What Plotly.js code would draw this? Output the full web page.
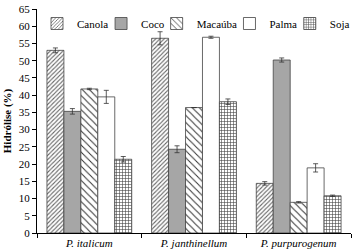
<!DOCTYPE html>
<html><head><meta charset="utf-8">
<script src="https://cdn.plot.ly/plotly-3.0.1.min.js"></script>
<style>body{margin:0;padding:0;background:#fff}#c{width:360px;height:251px}</style>
</head><body><div id="c"></div>
<script>
const categories = ['P. italicum', 'P. janthinellum', 'P. purpurogenum'];
const seriesNames = ['Canola', 'Coco', 'Macaúba', 'Palma', 'Soja'];
const canola = [53.0, 56.5, 14.4];
const canolaErr = [0.7, 1.9, 0.5];
const coco = [35.3, 24.3, 50.2];
const cocoErr = [0.8, 1.0, 0.6];
const macauba = [41.8, 36.4, 8.9];
const macaubaErr = [0.2, 0, 0.2];
const palma = [39.5, 56.8, 18.9];
const palmaErr = [1.9, 0.3, 1.2];
const soja = [21.4, 38.1, 10.8];
const sojaErr = [0.8, 0.8, 0.2];
const yTicks = [0,5,10,15,20,25,30,35,40,45,50,55,60,65];

const values = [canola, coco, macauba, palma, soja];
const errs = [canolaErr, cocoErr, macaubaErr, palmaErr, sojaErr];
const styles = [
  {color:'#ffffff', pattern:{shape:'/', size:3, solidity:0.35, fgcolor:'#666', bgcolor:'#fff'}},
  {color:'#a6a6a6', pattern:{shape:''}},
  {color:'#ffffff', pattern:{shape:'\\', size:5, solidity:0.2, fgcolor:'#333', bgcolor:'#fff'}},
  {color:'#ffffff', pattern:{shape:''}},
  {color:'#ffffff', pattern:{shape:'+', size:3, solidity:0.35, fgcolor:'#444', bgcolor:'#fff'}}
];
const legendIds = ['legend', 'legend2', 'legend3', 'legend4', 'legend5'];
const legendX = [0.0, 0.204, 0.381, 0.613, 0.805];
const FAM = 'Liberation Serif';
const traces = seriesNames.map((n,i)=>({
  type:'bar', name:n, x:categories, y:values[i], legend:legendIds[i],
  error_y:{type:'data', array:errs[i], visible:true, color:'#333', thickness:0.8, width:2.5},
  marker:{color:styles[i].color, pattern:styles[i].pattern, line:{color:'#444', width:0.8}}
}));
const layout = {
  width:360, height:251,
  margin:{l:37, r:5, t:9, b:18},
  paper_bgcolor:'#fff', plot_bgcolor:'#fff',
  font:{family:FAM, color:'#000', size:11},
  barmode:'group', bargap:0.19, bargroupgap:0,
  showlegend:true,
  xaxis:{type:'category', tickson:'boundaries', ticks:'outside', ticklen:4, tickcolor:'#000',
    showline:true, linecolor:'#000', linewidth:1, tickfont:{family:FAM, size:11, style:'italic', color:'#000'},
    ticklabelstandoff:0},
  yaxis:{range:[0,65], tickvals:yTicks, ticks:'outside', ticklen:4, tickcolor:'#000', showline:true, linecolor:'#000', linewidth:1,
    showgrid:false, zeroline:false, tickfont:{family:FAM, size:11, color:'#000'},
    title:{text:'<b>Hidrólise (%)</b>', font:{family:FAM, size:11, color:'#000'}, standoff:4}}
};
legendIds.forEach((id,i)=>{
  layout[id] = {orientation:'h', x:legendX[i], y:1.0, xanchor:'left', yanchor:'top',
    font:{family:FAM, size:11, color:'#000'}, bgcolor:'rgba(0,0,0,0)', itemwidth:30};
});
Plotly.newPlot('c', traces, layout, {displayModeBar:false, staticPlot:true});
</script></body></html>
